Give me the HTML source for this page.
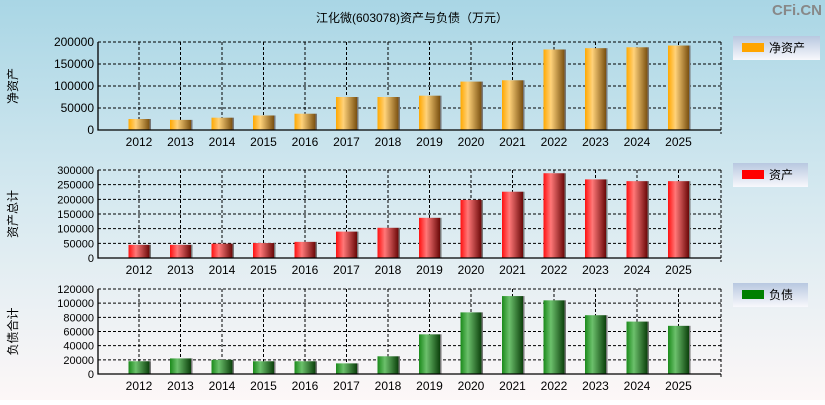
<!DOCTYPE html>
<html><head><meta charset="utf-8"><style>
body{margin:0;width:825px;height:400px;overflow:hidden;font-family:"Liberation Sans","Noto Sans CJK SC",sans-serif}
svg text{font-family:"Liberation Sans","Noto Sans CJK SC",sans-serif}
</style></head><body>
<svg id="c" width="825" height="400" xmlns="http://www.w3.org/2000/svg">
<defs>
<linearGradient id="bg" x1="0" y1="0" x2="0" y2="1"><stop offset="0" stop-color="#a9d6e5"/><stop offset="0.5" stop-color="#d6e9f0"/><stop offset="1" stop-color="#fdf7f7"/></linearGradient>
<linearGradient id="go" x1="0" x2="1"><stop offset="0" stop-color="#ffa800"/><stop offset="0.35" stop-color="#ffd27a"/><stop offset="1" stop-color="#7a5010"/></linearGradient>
<linearGradient id="gr" x1="0" x2="1"><stop offset="0" stop-color="#ff1010"/><stop offset="0.35" stop-color="#ff7878"/><stop offset="1" stop-color="#6a0808"/></linearGradient>
<linearGradient id="gg" x1="0" x2="1"><stop offset="0" stop-color="#1a8a1a"/><stop offset="0.35" stop-color="#6cc06c"/><stop offset="1" stop-color="#0b400b"/></linearGradient>
<linearGradient id="lg" x1="0" y1="0" x2="0" y2="1"><stop offset="0" stop-color="#b8c8e0"/><stop offset="1" stop-color="#f8f8fc"/></linearGradient>
</defs>
<rect width="825" height="400" fill="url(#bg)"/>
<text x="412" y="22" text-anchor="middle" font-size="12">江化微(603078)资产与负债（万元）</text>
<text x="822" y="15" text-anchor="end" font-size="15" font-weight="bold" fill="#888">CFi.CN</text>
<g id="g"></g>
</svg>
<script>
const years=['2012','2013','2014','2015','2016','2017','2018','2019','2020','2021','2022','2023','2024','2025'];
const netAssets=[25000,23000,28000,33000,37000,75000,75000,78000,110000,113000,183000,186000,188000,192000];
const totalAssets=[45000,45000,49000,51000,55000,90000,103000,137000,198000,226000,289000,268000,262000,262000];
const liabilities=[18000,22000,20000,18000,18000,15000,25000,56000,87000,110000,104000,83000,74000,68000];
const ticks1=[0,50000,100000,150000,200000];
const ticks2=[0,50000,100000,150000,200000,250000,300000];
const ticks3=[0,20000,40000,60000,80000,100000,120000];
const NS='http://www.w3.org/2000/svg';
const g=document.getElementById('g');
function mk(t,a,txt){const e=document.createElementNS(NS,t);for(const k in a)e.setAttribute(k,a[k]);if(txt!==undefined)e.textContent=txt;g.appendChild(e);return e;}
const X0=98,X1=721,step=41.5,x0c=139;
const xs=i=>x0c+i*step;
function panel(vals,ticks,top,bot,fill,ytitle,leg,legColor,ly,lw,key){
  const max=ticks[ticks.length-1];
  const ys=v=>bot-(v/max)*(bot-top);
  ticks.forEach(t=>{
    if(t>0){const l=mk('line',{x1:X0,x2:X1,y1:ys(t),y2:ys(t),stroke:'#000','stroke-dasharray':'3,2','stroke-width':1});
    }
    const tx=mk('text',{x:X0-4,y:ys(t)+4,'text-anchor':'end','font-size':ticks.length>5?11:12},t);
    
  });
  years.forEach((y,i)=>{
    const l=mk('line',{x1:xs(i),x2:xs(i),y1:top,y2:bot,stroke:'#000','stroke-dasharray':'3,2'});
    
  });
  const r=mk('line',{x1:X1,x2:X1,y1:top,y2:bot+4,stroke:'#000','stroke-dasharray':'3,2'});
  
  vals.forEach((v,i)=>{
    const b=mk('rect',{x:xs(i)-10.5,y:ys(v),width:21,height:bot-ys(v),fill:fill});
    
    const s=mk('rect',{x:xs(i)+10.5,y:ys(v),width:1.5,height:bot-ys(v),fill:'#777'});
    
    const tx=mk('text',{x:xs(i),y:bot+16,'text-anchor':'middle','font-size':12},years[i]);
    
  });
  const ax=mk('path',{d:`M${X0},${top} V${bot} H${X1}`,stroke:'#000',fill:'none','stroke-width':1.3});
  
  const yt=mk('text',{x:0,y:0,'font-size':12,'text-anchor':'middle',transform:`translate(17,${(top+bot)/2}) rotate(-90)`},ytitle);
  
  const lb=mk('rect',{x:733,y:ly,width:lw,height:24,fill:'url(#lg)'});
  
  const sw=mk('rect',{x:742,y:ly+7,width:22,height:9,fill:legColor});
  
  const lt=mk('text',{x:769,y:ly+16,'font-size':12},leg);
  
}
panel(netAssets,ticks1,42,130,'url(#go)','净资产','净资产','#ffa500',36,87,'net-assets');
panel(totalAssets,ticks2,170,258,'url(#gr)','资产总计','资产','#ff0000',163,75,'total-assets');
panel(liabilities,ticks3,289,374,'url(#gg)','负债合计','负债','#008000',283,75,'liabilities');
</script>
</body></html>
